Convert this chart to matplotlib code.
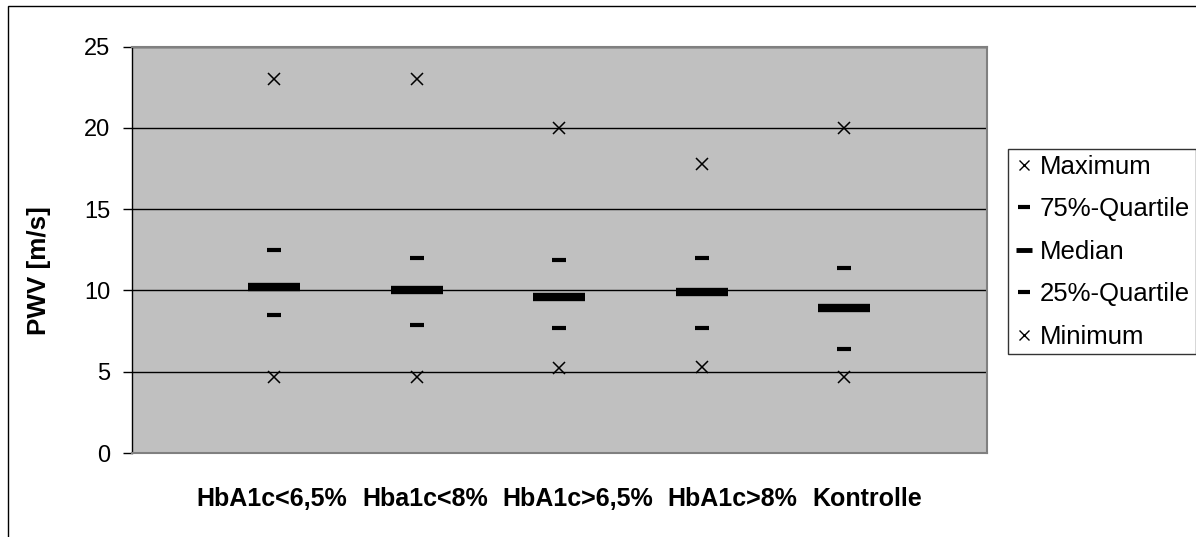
import matplotlib
matplotlib.use("Agg")
import matplotlib.pyplot as plt
from matplotlib.lines import Line2D
from matplotlib.patches import Rectangle
from matplotlib.offsetbox import TextArea, HPacker, AnnotationBbox

plt.rcParams['font.family'] = ['Liberation Sans', 'DejaVu Sans']

groups = ["HbA1c<6,5%", "Hba1c<8%", "HbA1c>6,5%", "HbA1c>8%", "Kontrolle"]
maximum = [23.0, 23.0, 20.0, 17.8, 20.0]
quartile75 = [12.5, 12.0, 11.9, 12.0, 11.4]
median = [10.2, 10.0, 9.6, 9.9, 8.9]
quartile25 = [8.5, 7.9, 7.7, 7.7, 6.4]
minimum = [4.7, 4.7, 5.2, 5.3, 4.7]
yticks = [0, 5, 10, 15, 20, 25]

fig = plt.figure(figsize=(11.96, 5.37), dpi=100)
fig.patch.set_facecolor("white")

# outer chart frame (left and top edges fall inside the canvas)
fig.patches.append(Rectangle((8 / 1196, -0.05), 1.1, 1.05 - 6 / 537,
                             transform=fig.transFigure, fill=False,
                             edgecolor="black", linewidth=1.0))

ax = fig.add_axes([131.7 / 1196, 1 - 453 / 537, (987 - 131.7) / 1196, (453 - 46.7) / 537])
ax.set_facecolor("#C0C0C0")

x = list(range(1, len(groups) + 1))

ax.set_ylim(0, 25)
ax.set_xlim(0, len(groups) + 1)
ax.set_yticks(yticks)
ax.set_yticklabels([str(t) for t in yticks], fontsize=17)
ax.yaxis.grid(True, color="black", linewidth=1.0)
ax.set_axisbelow(True)

# category names: one packed row under the plot, centred on the axis
ax.set_xticks(x)
ax.set_xticklabels([])
ax.tick_params(axis="x", length=0)
ax.tick_params(axis="y", direction="out", length=6.3, width=1.0, pad=9, color="black")
row = HPacker(children=[TextArea(g, textprops=dict(fontsize=18, fontweight="bold"))
                        for g in groups],
              align="center", pad=0, sep=10.5)
ax.add_artist(AnnotationBbox(row, xy=(0.5, 0), xycoords="axes fraction",
                             xybox=(0, -33), boxcoords="offset points",
                             box_alignment=(0.5, 0.5), frameon=False, pad=0,
                             annotation_clip=False))

for side in ["top", "right", "bottom"]:
    ax.spines[side].set_color("#808080")
    ax.spines[side].set_linewidth(1.5)
ax.spines["left"].set_color("black")
ax.spines["left"].set_linewidth(1.0)

ax.set_ylabel("PWV [m/s]", fontsize=18.7, fontweight="bold")
ax.yaxis.set_label_coords(-0.094, 0.448)

ax.plot(x, maximum, linestyle="none", marker="x", markersize=8.5,
        markeredgewidth=1.1, color="black", zorder=3)
ax.plot(x, quartile75, linestyle="none", marker="_", markersize=10,
        markeredgewidth=3.0, color="black", zorder=3)
ax.plot(x, median, linestyle="none", marker="_", markersize=38,
        markeredgewidth=6.0, color="black", zorder=3)
ax.plot(x, quartile25, linestyle="none", marker="_", markersize=10,
        markeredgewidth=3.0, color="black", zorder=3)
ax.plot(x, minimum, linestyle="none", marker="x", markersize=8.5,
        markeredgewidth=1.1, color="black", zorder=3)

handles = [
    Line2D([], [], linestyle="none", marker="x", markersize=7, markeredgewidth=1.0, color="black"),
    Line2D([], [], linestyle="none", marker="_", markersize=8, markeredgewidth=3.0, color="black"),
    Line2D([], [], linestyle="none", marker="_", markersize=11, markeredgewidth=3.5, color="black"),
    Line2D([], [], linestyle="none", marker="_", markersize=8, markeredgewidth=3.0, color="black"),
    Line2D([], [], linestyle="none", marker="x", markersize=7, markeredgewidth=1.0, color="black"),
]
labels = ["Maximum", "75%-Quartile", "Median", "25%-Quartile", "Minimum"]
leg = fig.legend(handles, labels, loc="upper left",
                 bbox_to_anchor=(1008 / 1196, 1 - 149 / 537),
                 frameon=True, fancybox=False, edgecolor="black",
                 fontsize=18.5, handlelength=0.82, handletextpad=0.2,
                 borderpad=0.22, labelspacing=0.72, borderaxespad=0.0)
leg.get_frame().set_linewidth(1.0)

fig.savefig("out.png", dpi=100)
